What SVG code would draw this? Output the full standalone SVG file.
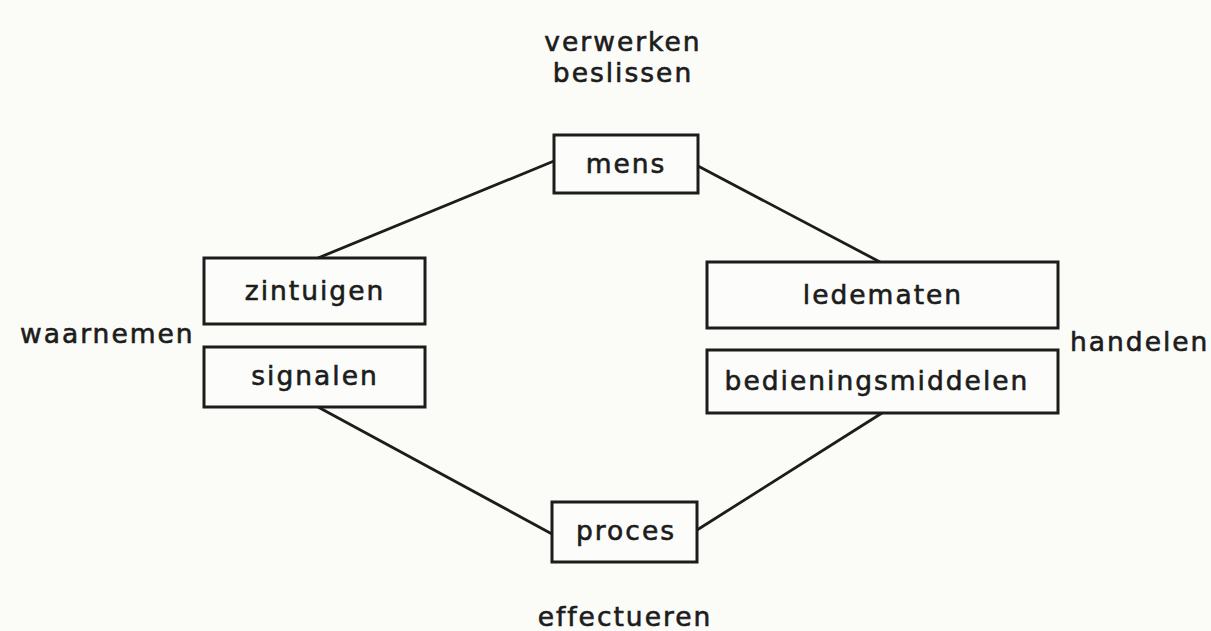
<svg xmlns="http://www.w3.org/2000/svg" width="1211" height="631" viewBox="0 0 1211 631">
<style>
.bg{fill:#fbfbf8}
.box{fill:#fcfcfa;stroke:#1c1c1c;stroke-width:3}
.ln{stroke:#1c1c1c;stroke-width:2.8;fill:none}
text{font-family:"DejaVu Sans",sans-serif;font-size:26.5px;fill:#1c1c1c;stroke:#1c1c1c;stroke-width:0.6;letter-spacing:2px}
.c{text-anchor:middle}
</style>
<rect class="bg" width="1211" height="631"/>
<g id="connectors">
<line class="ln" x1="554" y1="161" x2="318" y2="258"/>
<line class="ln" x1="698" y1="166" x2="880" y2="262"/>
<line class="ln" x1="318" y1="407" x2="552" y2="534"/>
<line class="ln" x1="882" y1="413" x2="697" y2="530"/>
</g>
<g id="label-verwerken">
<text class="c" x="623" y="51">verwerken</text>
<text class="c" x="623" y="82">beslissen</text>
</g>
<g id="node-mens">
<rect class="box" x="554" y="135" width="144" height="58"/>
<text class="c" x="626" y="173">mens</text>
</g>
<g id="node-zintuigen">
<rect class="box" x="204" y="258" width="221" height="66"/>
<text class="c" x="315" y="300">zintuigen</text>
</g>
<g id="node-signalen">
<rect class="box" x="204" y="347" width="221" height="60"/>
<text class="c" x="315" y="385">signalen</text>
</g>
<g id="label-waarnemen">
<text x="20" y="343">waarnemen</text>
</g>
<g id="node-ledematen">
<rect class="box" x="707" y="262" width="351" height="66"/>
<text class="c" x="883" y="304">ledematen</text>
</g>
<g id="node-bedieningsmiddelen">
<rect class="box" x="707" y="350" width="351" height="63"/>
<text class="c" x="877" y="390">bedieningsmiddelen</text>
</g>
<g id="label-handelen">
<text x="1070" y="351">handelen</text>
</g>
<g id="node-proces">
<rect class="box" x="552" y="502" width="145" height="60"/>
<text class="c" x="626" y="540">proces</text>
</g>
<g id="label-effectueren">
<text class="c" x="625" y="626">effectueren</text>
</g>
</svg>
